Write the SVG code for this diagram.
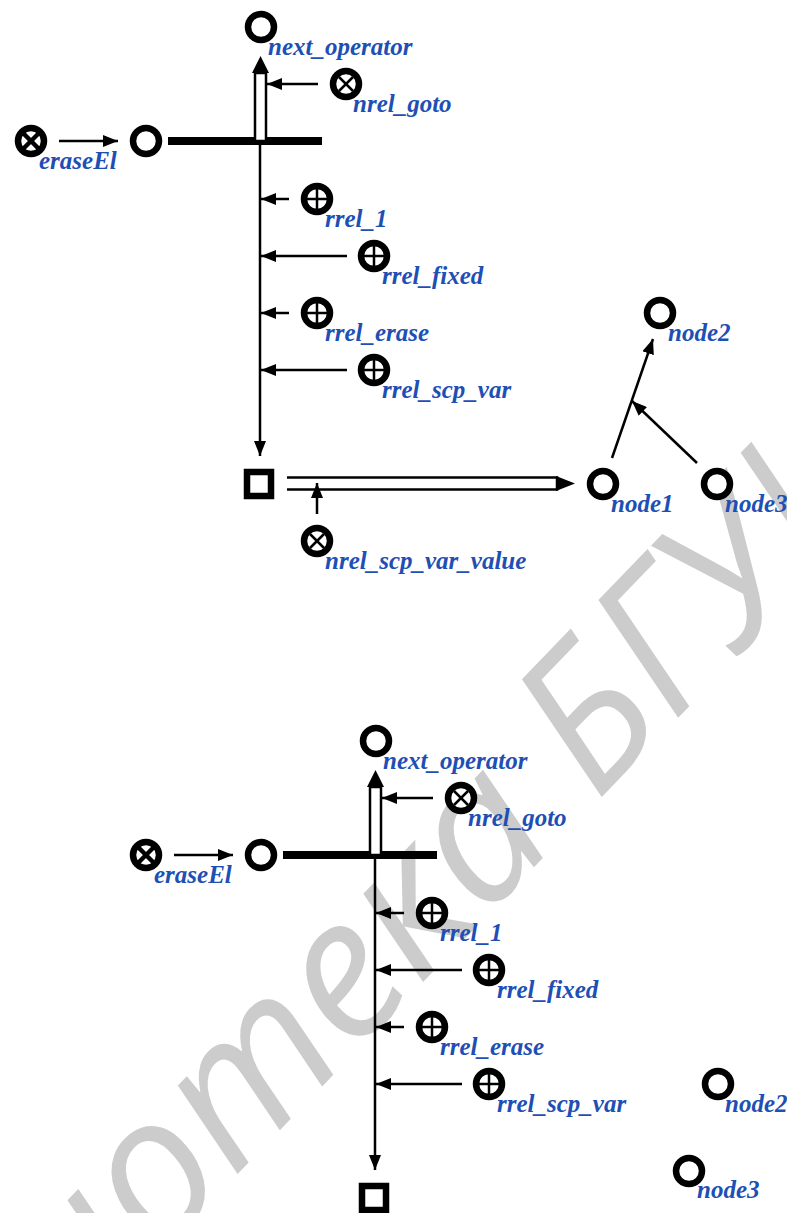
<svg xmlns="http://www.w3.org/2000/svg" width="787" height="1213" viewBox="0 0 787 1213">
<style>
.wm{font-family:"Open Sans","DejaVu Sans",sans-serif;font-size:195px;font-style:italic;fill:#cccccc}
.lbl{font-family:"Liberation Serif","Times New Roman",serif;font-size:25px;font-weight:bold;font-style:italic;fill:#1e4fb5}
.nd{fill:#ffffff;stroke:#000000;stroke-width:6.5}
.sq{fill:#ffffff;stroke:#000000;stroke-width:6.5}
.xs{stroke:#000000;stroke-width:2.5;fill:none}
.xt{stroke:#000000;stroke-width:4.5;fill:none}
.arc{stroke:#000000;stroke-width:2.5;fill:none}
.bus{stroke:#000000;stroke-width:8;fill:none}
.band{fill:#ffffff;stroke:#000000;stroke-width:2.5}
.head{fill:#000000}
</style>
<defs>
<marker id="ah" markerUnits="userSpaceOnUse" markerWidth="16" markerHeight="12" refX="15" refY="6" orient="auto">
<path d="M0,0 L15,6 L0,12 z" fill="#000000"/>
</marker>
<g id="plusNode"><circle r="13" class="nd"/><line x1="-10" y1="0" x2="10" y2="0" class="xs"/><line x1="0" y1="-10" x2="0" y2="10" class="xs"/></g>
<g id="crossNode"><circle r="13" class="nd"/><line x1="-7" y1="-7" x2="7" y2="7" class="xs"/><line x1="-7" y1="7" x2="7" y2="-7" class="xs"/></g>
<g id="crossNodeThick"><circle r="13" class="nd"/><line x1="-7.5" y1="-7.5" x2="7.5" y2="7.5" class="xt"/><line x1="-7.5" y1="7.5" x2="7.5" y2="-7.5" class="xt"/></g>
<g id="plainNode"><circle r="13" class="nd"/></g>
</defs>

<text class="wm" transform="translate(-222,1650) rotate(-46)">Библиотека БГУИР</text>

<!-- ===== Top diagram ===== -->
<g id="top-connectors">
<line x1="59" y1="141" x2="118" y2="141" class="arc" marker-end="url(#ah)"/>
<line x1="168" y1="141" x2="322" y2="141" class="bus"/>
<rect x="255" y="73" width="11" height="68" class="band"/>
<path d="M252,73 L260.5,56 L269,73 z" class="head"/>
<line x1="318" y1="84" x2="267" y2="84" class="arc" marker-end="url(#ah)"/>
<line x1="260" y1="145" x2="260" y2="456" class="arc" marker-end="url(#ah)"/>
<line x1="289" y1="199" x2="261" y2="199" class="arc" marker-end="url(#ah)"/>
<line x1="347" y1="256" x2="261" y2="256" class="arc" marker-end="url(#ah)"/>
<line x1="289" y1="313" x2="261" y2="313" class="arc" marker-end="url(#ah)"/>
<line x1="347" y1="370" x2="261" y2="370" class="arc" marker-end="url(#ah)"/>
<path d="M287,477.5 L557,477.5 L557,489.5 L287,489.5" class="band"/>
<path d="M556,476 L575,483.5 L556,491 z" class="head"/>
<line x1="317" y1="514" x2="317" y2="483" class="arc" marker-end="url(#ah)"/>
<line x1="612" y1="458" x2="653" y2="339" class="arc" marker-end="url(#ah)"/>
<line x1="697" y1="463" x2="632" y2="401" class="arc" marker-end="url(#ah)"/>
</g>

<g id="t-next_operator"><use href="#plainNode" x="261" y="27"/><text class="lbl" x="268" y="55">next_operator</text></g>
<g id="t-nrel_goto"><use href="#crossNode" x="346" y="84"/><text class="lbl" x="353" y="112">nrel_goto</text></g>
<g id="t-eraseEl"><use href="#crossNodeThick" x="31" y="141"/><text class="lbl" x="39" y="169">eraseEl</text></g>
<g id="t-operator"><use href="#plainNode" x="146" y="141"/></g>
<g id="t-rrel_1"><use href="#plusNode" x="317" y="199"/><text class="lbl" x="325" y="227">rrel_1</text></g>
<g id="t-rrel_fixed"><use href="#plusNode" x="374" y="256"/><text class="lbl" x="382" y="284">rrel_fixed</text></g>
<g id="t-rrel_erase"><use href="#plusNode" x="317" y="313"/><text class="lbl" x="325" y="341">rrel_erase</text></g>
<g id="t-rrel_scp_var"><use href="#plusNode" x="374" y="370"/><text class="lbl" x="382" y="398">rrel_scp_var</text></g>
<g id="t-var"><rect x="247" y="472" width="24" height="24" class="sq"/></g>
<g id="t-nrel_scp_var_value"><use href="#crossNode" x="317" y="541"/><text class="lbl" x="325" y="569">nrel_scp_var_value</text></g>
<g id="t-node1"><use href="#plainNode" x="603" y="484"/><text class="lbl" x="611" y="512">node1</text></g>
<g id="t-node2"><use href="#plainNode" x="660" y="313"/><text class="lbl" x="668" y="341">node2</text></g>
<g id="t-node3"><use href="#plainNode" x="717" y="484"/><text class="lbl" x="725" y="512">node3</text></g>

<!-- ===== Bottom diagram ===== -->
<g id="bottom-connectors">
<line x1="174" y1="855" x2="233" y2="855" class="arc" marker-end="url(#ah)"/>
<line x1="283" y1="855" x2="437" y2="855" class="bus"/>
<rect x="370" y="787" width="11" height="68" class="band"/>
<path d="M367,787 L375.5,770 L384,787 z" class="head"/>
<line x1="433" y1="798" x2="382" y2="798" class="arc" marker-end="url(#ah)"/>
<line x1="375" y1="859" x2="375" y2="1170" class="arc" marker-end="url(#ah)"/>
<line x1="404" y1="913" x2="376" y2="913" class="arc" marker-end="url(#ah)"/>
<line x1="462" y1="970" x2="376" y2="970" class="arc" marker-end="url(#ah)"/>
<line x1="404" y1="1027" x2="376" y2="1027" class="arc" marker-end="url(#ah)"/>
<line x1="462" y1="1084" x2="376" y2="1084" class="arc" marker-end="url(#ah)"/>
</g>

<g id="b-next_operator"><use href="#plainNode" x="376" y="741"/><text class="lbl" x="383" y="769">next_operator</text></g>
<g id="b-nrel_goto"><use href="#crossNode" x="461" y="798"/><text class="lbl" x="468" y="826">nrel_goto</text></g>
<g id="b-eraseEl"><use href="#crossNodeThick" x="146" y="855"/><text class="lbl" x="154" y="883">eraseEl</text></g>
<g id="b-operator"><use href="#plainNode" x="261" y="855"/></g>
<g id="b-rrel_1"><use href="#plusNode" x="432" y="913"/><text class="lbl" x="440" y="941">rrel_1</text></g>
<g id="b-rrel_fixed"><use href="#plusNode" x="489" y="970"/><text class="lbl" x="497" y="998">rrel_fixed</text></g>
<g id="b-rrel_erase"><use href="#plusNode" x="432" y="1027"/><text class="lbl" x="440" y="1055">rrel_erase</text></g>
<g id="b-rrel_scp_var"><use href="#plusNode" x="489" y="1084"/><text class="lbl" x="497" y="1112">rrel_scp_var</text></g>
<g id="b-var"><rect x="362" y="1186" width="24" height="24" class="sq"/></g>
<g id="b-node2"><use href="#plainNode" x="718" y="1084"/><text class="lbl" x="725" y="1112">node2</text></g>
<g id="b-node3"><use href="#plainNode" x="689" y="1171"/><text class="lbl" x="697" y="1198">node3</text></g>
</svg>
